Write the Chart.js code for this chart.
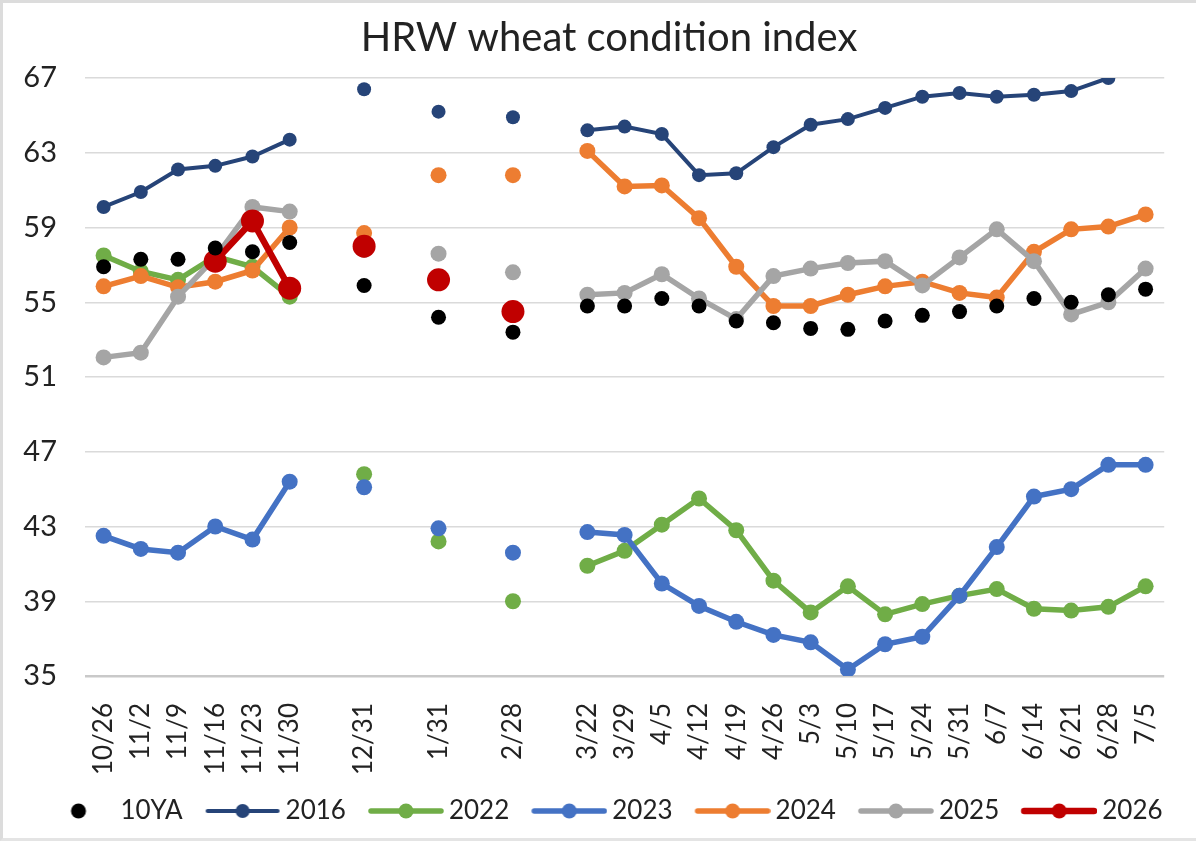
<!DOCTYPE html>
<html>
<head>
<meta charset="utf-8">
<script src="https://cdn.jsdelivr.net/npm/chart.js@4.4.1/dist/chart.umd.min.js"></script>
<style>
  html, body { margin: 0; padding: 0; background: #fff; }
  #wrap {
    position: relative; width: 1196px; height: 841px; box-sizing: border-box;
    border-top: 3px solid #dcdcdc; border-left: 3px solid #dcdcdc; border-bottom: 3px solid #e4e4e4;
  }
</style>
</head>
<body>
<div id="wrap"><canvas id="chart"></canvas></div>
<script>
// categories (blank slots keep the monthly gaps)
const labels = ['10/26','11/2','11/9','11/16','11/23','11/30','','12/31','','1/31','','2/28','',
  '3/22','3/29','4/5','4/12','4/19','4/26','5/3','5/10','5/17','5/24','5/31','6/7','6/14','6/21','6/28','7/5'];

const yTicks = [35, 39, 43, 47, 51, 55, 59, 63, 67];

const avg10 = [56.9,57.3,57.3,57.9,57.7,58.2,null,55.9,null,54.2,null,53.4,null,
  54.8,54.8,55.2,54.8,54.0,53.9,53.6,53.55,54.0,54.3,54.5,54.8,55.2,55.0,55.4,55.7];
const y2016 = [60.1,60.9,62.1,62.3,62.8,63.7,null,66.4,null,65.2,null,64.9,null,
  64.2,64.4,64.0,61.8,61.9,63.3,64.5,64.8,65.4,66.0,66.2,66.0,66.1,66.3,67.0,null];
const y2022 = [57.5,56.65,56.2,57.45,56.9,55.3,null,45.8,null,42.2,null,39.0,null,
  40.9,41.7,43.1,44.5,42.8,40.1,38.4,39.8,38.3,38.85,39.3,39.65,38.6,38.5,38.7,39.8];
const y2023 = [42.5,41.8,41.6,43.0,42.3,45.4,null,45.1,null,42.9,null,41.6,null,
  42.7,42.55,39.95,38.75,37.9,37.2,36.8,35.35,36.7,37.1,39.3,41.9,44.6,45.0,46.3,46.3];
const y2024 = [55.85,56.4,55.8,56.1,56.7,59.0,null,58.7,null,61.8,null,61.8,null,
  63.1,61.2,61.25,59.5,56.9,54.8,54.8,55.4,55.85,56.1,55.5,55.25,57.7,58.9,59.05,59.7];
const y2025 = [52.05,52.3,55.3,57.4,60.1,59.85,null,57.8,null,57.6,null,56.6,null,
  55.4,55.5,56.5,55.2,54.1,56.4,56.8,57.1,57.2,55.9,57.4,58.9,57.2,54.35,55.0,56.8];
const y2026 = [null,null,null,57.2,59.35,55.75,null,58.0,null,56.2,null,54.5,null,
  null,null,null,null,null,null,null,null,null,null,null,null,null,null,null,null];

const FONT = 'Lato';

// legend swatch: a line with a dot in the middle (or a dot alone)
function swatch(color, lineW, r, withLine) {
  const c = document.createElement('canvas');
  c.width = 82; c.height = 28;
  const g = c.getContext('2d');
  g.fillStyle = color;
  if (withLine) {
    g.strokeStyle = color; g.lineWidth = lineW; g.lineCap = 'round';
    g.beginPath(); g.moveTo(9, 14); g.lineTo(79, 14); g.stroke();
    g.beginPath(); g.arc(44, 14, r, 0, Math.PI * 2); g.fill();
  } else {
    g.beginPath(); g.arc(45, 14, r, 0, Math.PI * 2); g.fill();
  }
  return c;
}

function series(label, data, color, lineW, r, order, show) {
  return {
    label, data, order,
    borderColor: color, backgroundColor: color,
    pointBackgroundColor: color, pointBorderWidth: 0,
    borderWidth: lineW, pointRadius: r, pointHoverRadius: r,
    showLine: show, spanGaps: false, tension: 0,
    swatch: swatch(color, lineW, Math.min(r, 7.5), show)
  };
}

const datasets = [
  series('10YA', avg10, '#000000', 0, 7.5, 0, false),
  series('2016', y2016, '#264478', 4, 7, 6, true),
  series('2022', y2022, '#70AD47', 5.5, 8, 5, true),
  series('2023', y2023, '#4472C4', 5.5, 8, 4, true),
  series('2024', y2024, '#ED7D31', 5.5, 8, 3, true),
  series('2025', y2025, '#A5A5A5', 5.5, 8, 2, true),
  series('2026', y2026, '#C00000', 6.5, 11.5, 1, true)
];

// nudge the title and legend a bit right, as in the source picture
const shiftBoxes = {
  id: 'shiftBoxes',
  afterLayout: chart => {
    if (chart.titleBlock) chart.titleBlock.left += 30;
    if (chart.legend) { chart.legend.left += 8; chart.legend.right += 8; }
  }
};

new Chart(document.getElementById('chart'), {
  type: 'line',
  data: { labels, datasets },
  plugins: [shiftBoxes],
  options: {
    responsive: true,
    maintainAspectRatio: false,
    animation: false,
    layout: { padding: { left: 0, right: 11, top: 0, bottom: 4 } },
    plugins: {
      title: {
        display: true, text: 'HRW wheat condition index', color: '#222',
        font: { family: FONT, size: 40, weight: 'normal' },
        padding: { top: 11, bottom: 16 }
      },
      legend: {
        position: 'bottom',
        labels: {
          usePointStyle: true, pointStyleWidth: 66, padding: 24,
          color: '#222', font: { family: FONT, size: 26 },
          sort: (a, b) => a.datasetIndex - b.datasetIndex,
          generateLabels: chart => Chart.defaults.plugins.legend.labels.generateLabels(chart)
            .map(item => Object.assign(item, { pointStyle: chart.data.datasets[item.datasetIndex].swatch }))
        }
      },
      tooltip: { enabled: false }
    },
    scales: {
      x: {
        offset: true,
        grid: { display: false },
        border: { display: false },
        ticks: {
          autoSkip: false, maxRotation: 90, minRotation: 90, padding: 19,
          color: '#222', font: { family: FONT, size: 26 }
        },
        afterFit: s => { s.height = 98; }
      },
      y: {
        min: 35, max: 67,
        afterBuildTicks: s => { s.ticks = yTicks.map(v => ({ value: v })); },
        grid: {
          drawTicks: false,
          color: ctx => ctx.tick && ctx.tick.value === 35 ? '#c9c9c9' : '#dadada',
          lineWidth: ctx => ctx.tick && ctx.tick.value === 35 ? 2.5 : 1.5
        },
        border: { display: false },
        ticks: { padding: 28, color: '#222', font: { family: FONT, size: 29 } },
        afterFit: s => { s.width = 82; }
      }
    }
  }
});
</script>
</body>
</html>
